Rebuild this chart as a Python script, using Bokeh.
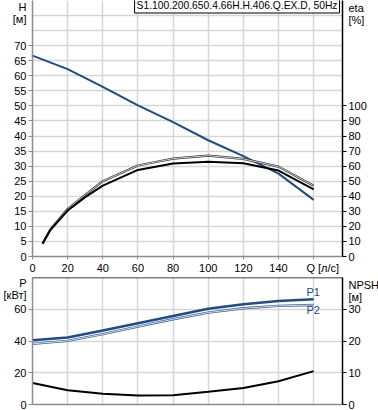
from bokeh.plotting import figure
from bokeh.models import Range1d, LinearAxis, FixedTicker, Label, Span
from bokeh.layouts import column
from bokeh.embed import file_html
from bokeh.resources import INLINE

# ---- data ----
Q_H = [0, 20, 40, 60, 80, 100, 120, 140, 160]
H = [66.7, 62.2, 56.3, 50.2, 44.6, 38.6, 33.3, 27.5, 18.8]

Q_eta = [5.7, 10, 20, 30, 40, 60, 80, 100, 120, 140, 160]
eta1 = [8.4, 17.3, 30.5, 39.4, 47.1, 57.5, 61.7, 63.0, 61.9, 57.1, 44.6]
eta2 = [8.4, 17.8, 31.5, 41.0, 50.0, 60.4, 65.0, 67.0, 64.8, 59.7, 47.0]

Q_P = [0, 20, 40, 60, 80, 100, 120, 140, 160]
P1 = [40.4, 42.2, 46.6, 51.2, 55.8, 60.3, 63.2, 65.2, 66.3]
P2 = [38.2, 40.1, 44.3, 49.1, 53.7, 57.9, 60.6, 62.1, 62.7]
NPSH = [6.8, 4.5, 3.35, 2.8, 2.95, 4.0, 5.2, 7.3, 10.5]

x_ticks = [0, 20, 40, 60, 80, 100, 120, 140]
x_grid = [20, 40, 60, 80, 100, 120, 140, 160]
H_ticks = list(range(0, 75, 5))
H_grid = list(range(0, 90, 5))
eta_ticks = list(range(0, 110, 10))
P_ticks = [0, 20, 40, 60]
P_grid = [20, 40, 60]
NPSH_ticks = [0, 10, 20, 30]
title_text = "S1.100.200.650.4.66H.H.406.Q.EX.D, 50Hz"

# axis-name labels, placed as extra tick labels at these axis values
Q_name, Q_name_at = "Q [л/с]", 165.2
H_name, H_unit, H_name_at, H_unit_at = "H", "[м]", 82.7, 78.7
eta_name, eta_unit, eta_name_at, eta_unit_at = "eta", "[%]", 165.2, 157.3
P_name, P_unit, P_name_at, P_unit_at = "P", "[кВт]", 77.2, 69.0
N_name, N_unit, N_name_at, N_unit_at = "NPSH", "[м]", 37.6, 33.9

FONT = "Liberation Sans"
FS = "11px"
BLUE = "#1d4b8c"
GRID = "#d6d6d6"
AXG = "#8c8c8c"

FL = 31
FW = 310
FR = 37
Q_MAX = 176.4
H_TOP = 85


def style_axis(ax, color, major, minor, overrides, line_w=1.5):
    ax.ticker = FixedTicker(ticks=major, minor_ticks=minor)
    ax.major_label_overrides = overrides
    ax.axis_line_color = color
    ax.axis_line_width = line_w
    ax.major_tick_line_color = None
    ax.major_tick_out = 4
    ax.major_tick_in = 0
    ax.minor_tick_line_color = color
    ax.minor_tick_out = 4
    ax.minor_tick_in = 0
    ax.major_label_standoff = 2
    ax.major_label_text_font = FONT
    ax.major_label_text_font_size = FS
    ax.major_label_text_color = "black"


# ---------------- top figure ----------------
p1 = figure(frame_width=FW, frame_height=256, output_backend="svg",
            toolbar_location=None, x_range=Range1d(0, Q_MAX),
            y_range=Range1d(0, H_TOP), min_border_left=FL, min_border_right=FR,
            min_border_top=0, min_border_bottom=18)
p1.outline_line_color = None
p1.extra_y_ranges = {"eta": Range1d(0, 2 * H_TOP)}

style_axis(p1.xaxis[0], AXG, x_ticks + [Q_name_at], x_ticks + [160], {Q_name_at: Q_name})
p1.xaxis.major_tick_out = 3
p1.xaxis.minor_tick_out = 3
style_axis(p1.yaxis[0], AXG, H_ticks + [H_unit_at, H_name_at], H_ticks,
           {H_name_at: H_name, H_unit_at: H_unit})
p1.xgrid.ticker = FixedTicker(ticks=x_grid)
p1.ygrid.ticker = FixedTicker(ticks=H_grid)
for g in (p1.xgrid[0], p1.ygrid[0]):
    g.grid_line_color = GRID
    g.grid_line_width = 1.5

ax_eta = LinearAxis(y_range_name="eta")
style_axis(ax_eta, "black", eta_ticks + [eta_unit_at, eta_name_at], eta_ticks,
           {eta_name_at: eta_name, eta_unit_at: eta_unit})
p1.add_layout(ax_eta, "right")

p1.line(Q_H, H, line_color=BLUE, line_width=2)
p1.line(Q_eta, eta2, y_range_name="eta", line_color="#333333", line_width=2.2)
p1.line(Q_eta, eta2, y_range_name="eta", line_color="#dcdcdc", line_width=0.9)
p1.line(Q_eta, eta1, y_range_name="eta", line_color="black", line_width=2)

p1.add_layout(Label(x=338 - FL, y=256 - 12.5, x_units="screen", y_units="screen",
                    text=title_text, text_align="right", text_baseline="bottom",
                    text_font=FONT, text_font_size="10.3px", text_color="black",
                    background_fill_color="white", border_line_color="black",
                    border_line_width=1, padding=2))

# ---------------- bottom figure ----------------
p2 = figure(frame_width=FW, frame_height=127, output_backend="svg",
            toolbar_location=None, x_range=p1.x_range,
            y_range=Range1d(0, 80), min_border_left=FL, min_border_right=FR,
            min_border_top=1, min_border_bottom=8)
p2.outline_line_color = None
p2.extra_y_ranges = {"npsh": Range1d(0, 40)}

p2.xaxis.ticker = FixedTicker(ticks=[])
p2.xaxis.axis_line_color = AXG
p2.xaxis.axis_line_width = 1.5
p2.xaxis.major_tick_out = 0
p2.xaxis.major_label_standoff = 0
style_axis(p2.yaxis[0], AXG, P_ticks + [P_unit_at, P_name_at], P_ticks,
           {P_name_at: P_name, P_unit_at: P_unit})
p2.xgrid.ticker = FixedTicker(ticks=x_grid)
p2.ygrid.ticker = FixedTicker(ticks=P_grid)
for g in (p2.xgrid[0], p2.ygrid[0]):
    g.grid_line_color = GRID
    g.grid_line_width = 1.5

ax_n = LinearAxis(y_range_name="npsh")
style_axis(ax_n, "black", NPSH_ticks + [N_unit_at, N_name_at], NPSH_ticks,
           {N_name_at: N_name, N_unit_at: N_unit})
p2.add_layout(ax_n, "right")
p2.add_layout(Span(location=80, dimension="width", line_color="black", line_width=1.5))

p2.line(Q_P, P2, line_color="#3a6298", line_width=2.4)
p2.line(Q_P, P2, line_color="#e4e9f0", line_width=0.9)
p2.line(Q_P, P1, line_color=BLUE, line_width=2.5)
p2.line(Q_P, NPSH, y_range_name="npsh", line_color="black", line_width=2)

for txt, yv in (("P1", 71.0), ("P2", 59.8)):
    p2.add_layout(Label(x=305 - FL, y=yv, x_units="screen", y_units="data",
                        text=txt, text_align="left", text_baseline="middle",
                        text_font=FONT, text_font_size=FS, text_color=BLUE))

layout = column(p1, p2)
open("out.html", "w").write(file_html(layout, INLINE))
